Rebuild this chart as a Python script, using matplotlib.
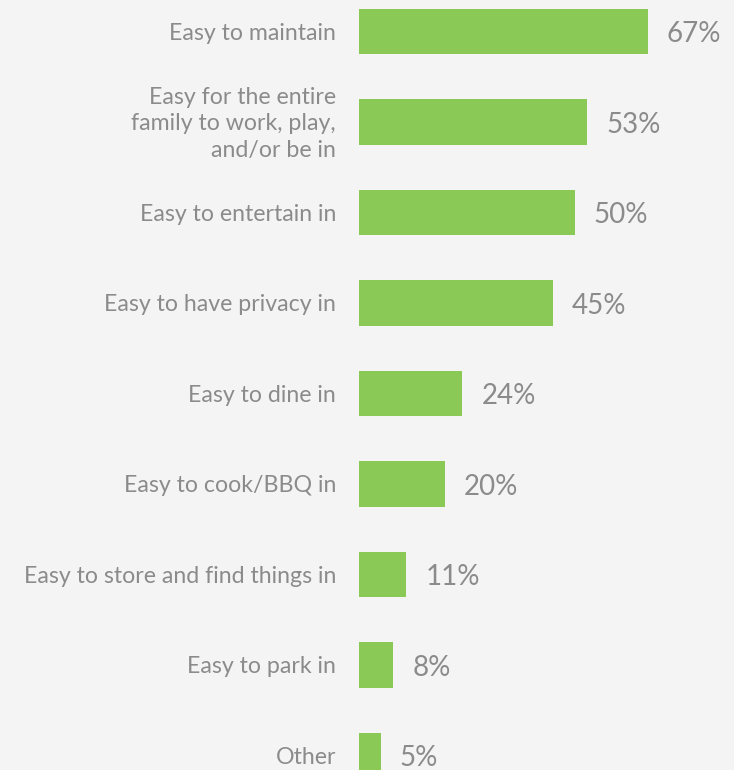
import matplotlib
matplotlib.use("Agg")
from matplotlib import pyplot as plt

# data
labels = ["Easy to maintain",
          "Easy for the entire\nfamily to work, play,\nand/or be in",
          "Easy to entertain in",
          "Easy to have privacy in",
          "Easy to dine in",
          "Easy to cook/BBQ in",
          "Easy to store and find things in",
          "Easy to park in",
          "Other"]
values = [67, 53, 50, 45, 24, 20, 11, 8, 5]

bg = "#f4f4f4"
green = "#8bc957"
grey = "#8b8b8b"

plt.rcParams['font.family'] = ['Lato', 'DejaVu Sans']

fig = plt.figure(figsize=(7.34, 7.70), dpi=100, facecolor=bg)
ax = fig.add_axes([359/734, 0, 375/734, 1])
ax.set_facecolor(bg)

ypos = list(range(len(values)))
ax.barh(ypos, values, height=0.503, color=green)

# pixel scale: 4.31 px per percent, 90.5 px per row
ax.set_xlim(0, 375/4.31)
ax.set_ylim((770 - 31.5)/90.5, -31.5/90.5)

for y, v in zip(ypos, values):
    ax.text(v + 19/4.31, y + 0.03, f"{v}%", va="center", ha="left",
            fontsize=20, color=grey)

# category labels left of the bars
for y, lab in zip(ypos, labels):
    ax.text(-23/4.31, y + 0.02, lab, va="center", ha="right",
            fontsize=16.7, color=grey, linespacing=1.33, clip_on=False)

ax.set_yticks([])
ax.set_xticks([])
for s in ax.spines.values():
    s.set_visible(False)

fig.savefig("out.png", dpi=100, facecolor=bg)
